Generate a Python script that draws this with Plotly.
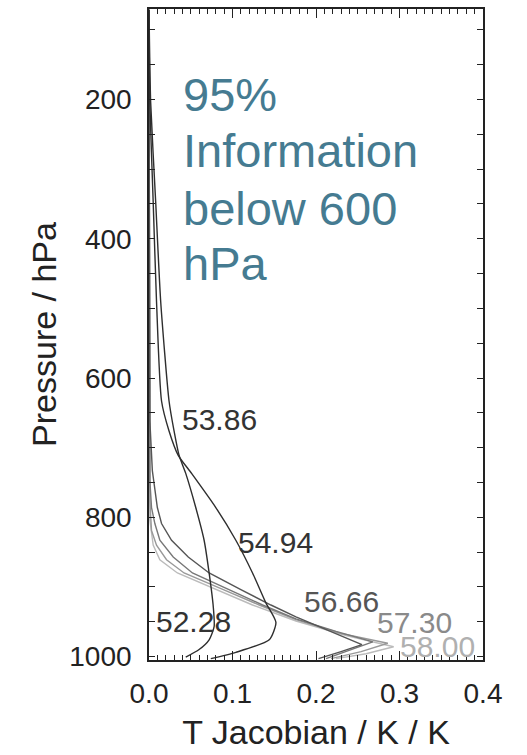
import plotly.graph_objects as go

# ---- data ----
p_5228 = [71, 204, 347, 490, 633, 676, 711, 737, 786, 833, 880, 929, 957, 976, 990, 1001]
x_5228 = [0.0, 0.002, 0.008, 0.014, 0.024, 0.030, 0.036, 0.044, 0.056, 0.066, 0.072, 0.077, 0.078, 0.072, 0.060, 0.044]

p_5386 = [71, 204, 347, 490, 633, 676, 711, 737, 786, 833, 880, 923, 951, 976, 994, 1003]
x_5386 = [0.0, 0.001, 0.005, 0.009, 0.015, 0.024, 0.035, 0.051, 0.080, 0.104, 0.124, 0.140, 0.152, 0.144, 0.104, 0.074]

p_5494 = [71, 661, 733, 786, 809, 833, 857, 880, 904, 926, 943, 961, 983, 993, 1003]
x_5494 = [0.0, 0.001, 0.004, 0.010, 0.015, 0.027, 0.047, 0.072, 0.110, 0.146, 0.176, 0.212, 0.255, 0.230, 0.203]

p_5666 = [71, 747, 786, 809, 833, 857, 880, 904, 926, 946, 964, 979, 990, 1003]
x_5666 = [0.0, 0.001, 0.003, 0.007, 0.013, 0.029, 0.052, 0.096, 0.136, 0.176, 0.224, 0.268, 0.242, 0.212]

p_5730 = [71, 776, 819, 840, 861, 880, 904, 926, 947, 967, 981, 993, 1003]
x_5730 = [0.0, 0.001, 0.003, 0.009, 0.021, 0.042, 0.089, 0.132, 0.176, 0.230, 0.286, 0.254, 0.218]

p_5800 = [71, 804, 840, 861, 880, 904, 926, 949, 970, 986, 996, 1003]
x_5800 = [0.0, 0.001, 0.005, 0.013, 0.034, 0.080, 0.124, 0.176, 0.236, 0.293, 0.260, 0.224]

channel_names = ["52.28", "53.86", "54.94", "56.66", "57.30", "58.00"]
label_x = [0.053, 0.085, 0.152, 0.231, 0.318, 0.346]
label_p = [950, 659, 836, 921, 951, 986]

note_lines = ["95%", "Information", "below 600", "hPa"]
note_top_p = [152, 233, 315, 395]

X_RANGE = [0, 0.4]
Y_RANGE = [1005, 70]

# ---- styles ----
line_colors = ["#2e2e2e", "#2e2e2e", "#555555", "#777777", "#999999", "#bbbbbb"]
label_colors = ["#333333", "#333333", "#333333", "#555555", "#8a8a8a", "#b0b0b0"]
shapes_ = ["spline", "spline", "linear", "linear", "linear", "linear"]
FONT = "Liberation Sans, Arial, Helvetica, sans-serif"
INK = "#222222"

profiles = [(x_5228, p_5228), (x_5386, p_5386), (x_5494, p_5494),
            (x_5666, p_5666), (x_5730, p_5730), (x_5800, p_5800)]

fig = go.Figure()
for i in [5, 4, 3, 2, 1, 0]:
    xs, ps = profiles[i]
    fig.add_trace(go.Scatter(
        x=xs, y=ps, mode="lines", name=channel_names[i],
        line=dict(color=line_colors[i], width=1.4, shape=shapes_[i], smoothing=0.6),
        showlegend=False, hoverinfo="skip"))

for name, lx, lp, c in zip(channel_names, label_x, label_p, label_colors):
    fig.add_annotation(x=lx, y=lp, xref="x", yref="y", text=name, showarrow=False,
                       font=dict(family=FONT, size=30, color=c))

for txt, tp in zip(note_lines, note_top_p):
    fig.add_annotation(x=0.038, y=tp, xref="x", yref="y", xanchor="left", yanchor="top",
                       align="left", showarrow=False, text=txt,
                       font=dict(family=FONT, size=47, color="#457b91"))

axis_common = dict(showline=True, linecolor=INK, linewidth=1.6, mirror="allticks",
                   ticks="inside", tickcolor=INK, tickwidth=1.4,
                   showgrid=False, zeroline=False, tickmode="linear",
                   tickfont=dict(family=FONT, size=28, color=INK))

fig.update_layout(
    xaxis=dict(range=X_RANGE, tick0=0, dtick=0.1, tickformat=".1f", ticklen=9,
               minor=dict(tick0=0, dtick=0.01, ticks="inside", ticklen=5, tickcolor=INK, tickwidth=1.2),
               title=dict(text="T Jacobian / K / K", font=dict(family=FONT, size=34, color=INK),
                          standoff=12),
               ticklabelstandoff=8, **axis_common),
    yaxis=dict(range=Y_RANGE, tick0=0, dtick=200, ticklen=6,
               minor=dict(tick0=0, dtick=50, ticks="inside", ticklen=6, tickcolor=INK, tickwidth=1.2),
               title=dict(text="Pressure / hPa", font=dict(family=FONT, size=34, color=INK),
                          standoff=2),
               ticklabelstandoff=10, **axis_common),
    width=527, height=755, margin=dict(l=149, r=44, t=7, b=95),
    paper_bgcolor="white", plot_bgcolor="white")

fig.write_html("out.html")
